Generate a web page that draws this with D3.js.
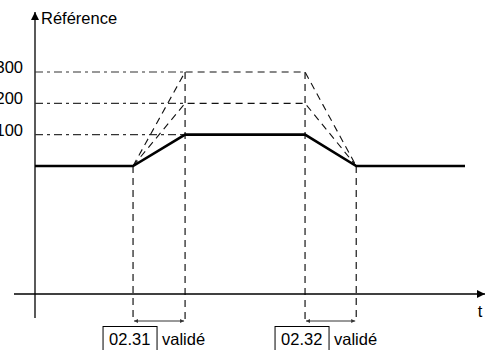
<!DOCTYPE html>
<html>
<head>
<meta charset="utf-8">
<script src="https://cdn.jsdelivr.net/npm/d3@7"></script>
<style>
  body { margin: 0; background: #fff; }
  svg { display: block; font-family: "Liberation Sans", Arial, sans-serif; }
</style>
</head>
<body>
<div id="chart"></div>
<script>
// time points of the profile (arbitrary units)
var times = [0, 2.28, 3.49, 6.28, 7.47, 10];
// reference profile (solid line) and the two dashed alternatives
var refSolid = [0, 0, 100, 100, 0, 0];
var refAlt200 = [0, 0, 200, 200, 0, 0];
var refAlt300 = [0, 0, 300, 300, 0, 0];
// levels marked on the vertical axis
var levels = [100, 200, 300];
var levelLabels = ["100", "200", "300"];
// ramp parameters shown under the time axis
var ramps = [
  {start: 1, end: 2, param: "02.31", label: "validé"},
  {start: 3, end: 4, param: "02.32", label: "validé"}
];
var axisLabelY = "Référence",
    axisLabelX = "t";

var width = 490, height = 350;

var xScale = d3.scaleLinear().domain([0, 10]).range([35, 465]);
var yScale = d3.scaleLinear().domain([0, 300]).range([166, 72]);

var x0 = xScale(0), yAxisPos = 294;

var svg = d3.select("#chart")
  .append("svg")
  .attr("width", width)
  .attr("height", height);

// arrow markers
var defs = svg.append("defs");
defs.append("marker")
  .attr("id", "bigArrow")
  .attr("viewBox", "0 0 10 10")
  .attr("refX", 10).attr("refY", 5)
  .attr("markerWidth", 9).attr("markerHeight", 8)
  .attr("markerUnits", "userSpaceOnUse")
  .attr("orient", "auto")
  .append("path").attr("d", "M0,0L10,5L0,10Z").attr("fill", "#000");
defs.append("marker")
  .attr("id", "smallArrow")
  .attr("viewBox", "0 0 10 10")
  .attr("refX", 10).attr("refY", 5)
  .attr("markerWidth", 4).attr("markerHeight", 4)
  .attr("markerUnits", "userSpaceOnUse")
  .attr("orient", "auto-start-reverse")
  .append("path").attr("d", "M0,0L10,5L0,10Z").attr("fill", "#333");

// axes
svg.append("line")
  .attr("x1", 14).attr("x2", 485)
  .attr("y1", yAxisPos).attr("y2", yAxisPos)
  .attr("stroke", "#000").attr("stroke-width", 1.3)
  .attr("marker-end", "url(#bigArrow)");
svg.append("line")
  .attr("x1", x0).attr("x2", x0)
  .attr("y1", 318).attr("y2", 12)
  .attr("stroke", "#000").attr("stroke-width", 1.3)
  .attr("marker-end", "url(#bigArrow)");

svg.append("text")
  .attr("x", 41).attr("y", 24)
  .style("font-size", "16.5px")
  .text(axisLabelY);
svg.append("text")
  .attr("x", 480).attr("y", 317)
  .attr("text-anchor", "middle")
  .style("font-size", "16.5px")
  .text(axisLabelX);

// level lines (dash-dot up to the end of the first ramp)
levels.forEach(function(v, i) {
  svg.append("line")
    .attr("x1", x0).attr("x2", xScale(times[2]))
    .attr("y1", yScale(v)).attr("y2", yScale(v))
    .attr("stroke", "#333").attr("stroke-width", 1.2)
    .attr("stroke-dasharray", "8,4,3,4");
  svg.append("text")
    .attr("x", 23).attr("y", yScale(v) + 1)
    .attr("text-anchor", "end")
    .style("font-size", "16.5px")
    .text(levelLabels[i]);
});

// vertical dashed guide lines
var guideTop = [yScale(0), yScale(300), yScale(300), yScale(0)];
[1, 2, 3, 4].forEach(function(k, i) {
  svg.append("line")
    .attr("x1", xScale(times[k])).attr("x2", xScale(times[k]))
    .attr("y1", guideTop[i]).attr("y2", 321)
    .attr("stroke", "#000").attr("stroke-width", 1.1)
    .attr("stroke-dasharray", "7,5");
});

// dashed alternatives
var line = d3.line()
  .x(function(d) { return xScale(d[0]); })
  .y(function(d) { return yScale(d[1]); });

[refAlt200, refAlt300].forEach(function(s) {
  var pts = d3.zip(times, s).slice(1, 5);
  svg.append("path")
    .attr("d", line(pts))
    .attr("fill", "none")
    .attr("stroke", "#111").attr("stroke-width", 1.1)
    .attr("stroke-dasharray", "7,5");
});

// solid reference
svg.append("path")
  .attr("d", line(d3.zip(times, refSolid)))
  .attr("fill", "none")
  .attr("stroke", "#000").attr("stroke-width", 2.6)
  .attr("stroke-linejoin", "miter");

// ramp durations
ramps.forEach(function(r) {
  var xa = xScale(times[r.start]), xb = xScale(times[r.end]);
  svg.append("line")
    .attr("x1", xa + 1).attr("x2", xb - 1)
    .attr("y1", 321).attr("y2", 321)
    .attr("stroke", "#333").attr("stroke-width", 1)
    .attr("marker-start", "url(#smallArrow)")
    .attr("marker-end", "url(#smallArrow)");
  var bx = xa - 30;
  svg.append("rect")
    .attr("x", bx).attr("y", 326.5)
    .attr("width", 54).attr("height", 30)
    .attr("fill", "none").attr("stroke", "#000").attr("stroke-width", 1);
  svg.append("text")
    .attr("x", bx + 6).attr("y", 345)
    .style("font-size", "16.5px")
    .text(r.param);
  svg.append("text")
    .attr("x", bx + 59).attr("y", 345)
    .style("font-size", "16.5px")
    .text(r.label);
});
</script>
</body>
</html>
